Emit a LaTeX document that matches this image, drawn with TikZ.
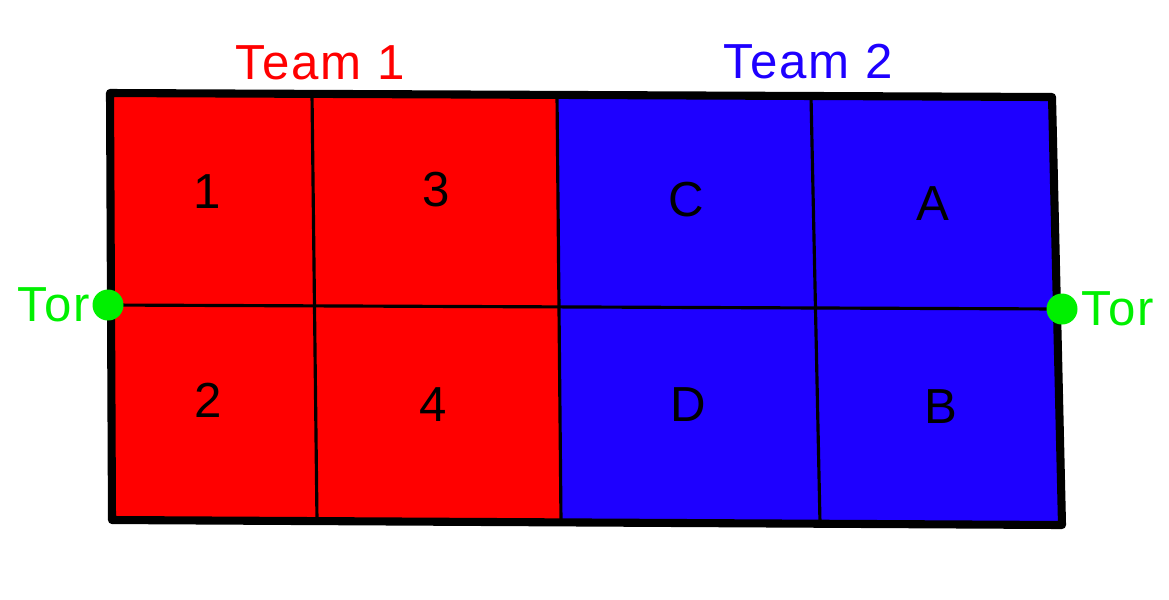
\documentclass[tikz,border=0pt]{standalone}
\usepackage{fontspec}
\setmainfont[LetterSpace=4]{Liberation Sans}
\usetikzlibrary{positioning}
\definecolor{rosso}{RGB}{255,0,0}
\definecolor{blu}{RGB}{30,0,255}
\definecolor{verde}{RGB}{0,240,0}

\begin{document}
\begin{tikzpicture}[
    etichetta/.style={inner sep=0pt, font=\fontsize{14}{16}\selectfont},
    porta/.style={circle, fill=verde, minimum size=0.31cm, inner sep=0pt},
    linea/.style={line width=0.9pt}
  ]
  \useasboundingbox (0,0) rectangle (11.69,5.99);
  % Punti delle porte
  \coordinate (portaSx) at (1.08,2.94);
  \coordinate (portaDx) at (10.62,2.90);
  % Meta campo del Team 1
  \fill[rosso] (1.10,5.06) -- (5.57,5.04) -- (5.61,0.77) -- (1.12,0.79) -- cycle;
  % Meta campo del Team 2
  \fill[blu] (5.57,5.04) -- (10.52,5.02) -- (10.62,0.74) -- (5.61,0.77) -- cycle;
  % Linea di centro orizzontale
  \draw[linea] (portaSx) -- (portaDx);
  % Linee verticali
  \draw[linea] (3.12,5.05) -- (3.17,0.78);
  \draw[linea] (5.57,5.04) -- (5.61,0.77);
  \draw[linea] (8.11,5.03) -- (8.20,0.76);
  % Bordo del campo
  \draw[line width=2.3pt, line join=round] (1.10,5.06) -- (10.52,5.02) -- (10.62,0.74) -- (1.12,0.79) -- cycle;
  % Porte
  \node[porta] (torSx) at (portaSx) {};
  \node[porta] (torDx) at (portaDx) {};
  \node[etichetta, text=verde, left=0.01cm of torSx] (scrittaSx) {Tor};
  \node[etichetta, text=verde, right=0.03cm of torDx] (scrittaDx) {Tor};
  % Nomi delle squadre
  \node[etichetta, text=rosso] (team1) at (3.20,5.36) {Team 1};
  \node[etichetta, text=blu] (team2) at (8.08,5.37) {Team 2};
  % Caselle del Team 1
  \node[etichetta] (c1) at (2.07,4.07) {1};
  \node[etichetta] (c3) at (4.36,4.09) {3};
  \node[etichetta] (c2) at (2.08,1.99) {2};
  \node[etichetta] (c4) at (4.33,1.94) {4};
  % Caselle del Team 2
  \node[etichetta] (cC) at (6.86,3.99) {C};
  \node[etichetta] (cA) at (9.33,3.95) {A};
  \node[etichetta] (cD) at (6.88,1.94) {D};
  \node[etichetta] (cB) at (9.41,1.92) {B};
\end{tikzpicture}
\end{document}
